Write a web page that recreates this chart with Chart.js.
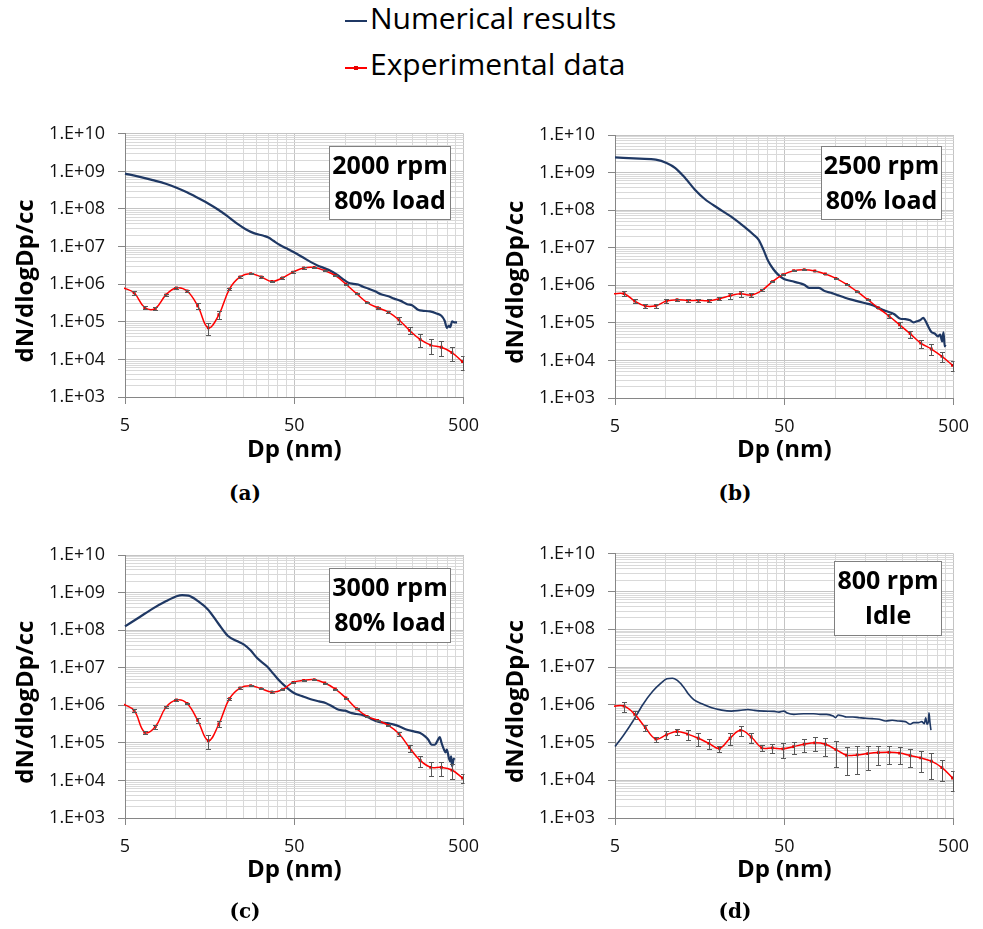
<!DOCTYPE html>
<html>
<head>
<meta charset="utf-8">
<script src="https://cdn.jsdelivr.net/npm/chart.js@4.4.1/dist/chart.umd.min.js"></script>
<style>
  html, body { margin: 0; padding: 0; background: #ffffff; width: 983px; height: 929px; overflow: hidden; }
  .panel { position: absolute; width: 490px; height: 370px; }
  .panel canvas { display: block; }
  .legline { position: absolute; height: 2px; width: 22px; left: 345px; }
  .legtext { position: absolute; left: 370px; font-family: 'Open Sans', sans-serif; font-size: 30px; line-height: 30px; color: #000; white-space: nowrap; }
  .legdot { position: absolute; width: 4px; height: 4px; background: #e60000; left: 354px; }
  .cap { position: absolute; width: 490px; text-align: center; font-family: 'DejaVu Serif', serif; font-weight: bold; font-size: 20px; line-height: 24px; color: #000; }
</style>
</head>
<body>
<div class="legline" style="top:20px;background:#1f3864"></div>
<div class="legtext" style="top:3px">Numerical results</div>
<div class="legline" style="top:67px;background:#ff0000"></div>
<div class="legdot" style="top:66px"></div>
<div class="legtext" style="top:49px">Experimental data</div>

<div class="panel" style="left:0px;top:110px"><canvas id="ca" width="490" height="370"></canvas></div>
<div class="panel" style="left:490px;top:110px"><canvas id="cb" width="490" height="370"></canvas></div>
<div class="panel" style="left:0px;top:530px"><canvas id="cc" width="490" height="370"></canvas></div>
<div class="panel" style="left:490px;top:530px"><canvas id="cd" width="490" height="370"></canvas></div>

<div class="cap" style="left:0px;top:481px">(a)</div>
<div class="cap" style="left:490px;top:481px">(b)</div>
<div class="cap" style="left:0px;top:899px">(c)</div>
<div class="cap" style="left:490px;top:899px">(d)</div>

<script>
// ---------------- DATA ----------------
// Axis ticks / labels
const xLabeledValues = [5, 50, 500];
const xTickLabels = ['5', '50', '500'];
const xGridValues = [5, 10, 15, 20, 25, 30, 35, 40, 45, 50, 100, 150, 200, 250, 300, 350, 400, 450, 500];
const yDecades = [1e3, 1e4, 1e5, 1e6, 1e7, 1e8, 1e9, 1e10];
const yTickLabels = ['1.E+03', '1.E+04', '1.E+05', '1.E+06', '1.E+07', '1.E+08', '1.E+09', '1.E+10'];

const seriesNames = ['Numerical results', 'Experimental data'];
const xTitle = 'Dp (nm)';
const yTitle = 'dN/dlogDp/cc';
const boxTexts = [['2000 rpm', '80% load'], ['2500 rpm', '80% load'], ['3000 rpm', '80% load'], ['800 rpm', 'Idle']];

// Experimental (SMPS) diameters, nm
const dpExp = [4.9, 5.66, 6.54, 7.55, 8.72, 10.07, 11.63, 13.44, 15.52, 17.92, 20.70, 23.91, 27.62, 31.89, 36.84, 42.55, 49.14, 56.77, 65.56, 75.72, 87.47, 101.0, 116.7, 134.8, 155.6, 179.8, 207.7, 239.9, 277.0, 319.9, 369.5, 426.8, 493.0];

// (a) 2000 rpm 80% load
const expA = [8.0e5, 5.9e5, 2.4e5, 2.26e5, 5.2e5, 8.0e5, 6.6e5, 2.65e5, 6.9e4, 1.54e5, 7.4e5, 1.56e6, 1.91e6, 1.56e6, 1.18e6, 1.47e6, 2.1e6, 2.7e6, 2.8e6, 2.29e6, 1.69e6, 1.0e6, 5.6e5, 3.25e5, 2.36e5, 1.81e5, 1.12e5, 5.9e4, 3.4e4, 2.4e4, 2.1e4, 1.52e4, 8.7e3];
const errA = [0, 6e4, 2e4, 2e4, 3e4, 4e4, 4e4, 4.5e4, 2.5e4, 3.5e4, 5e4, 8e4, 8e4, 6e4, 5e4, 6e4, 8e4, 1e5, 1e5, 8e4, 6e4, 4e4, 2.5e4, 1.5e4, 1.2e4, 1e4, 2.4e4, 1.2e4, 1.3e4, 1.05e4, 9e3, 6e3, 3.5e3];
const dpNumA = [5.00, 6.11, 7.29, 8.71, 10.08, 11.61, 13.57, 15.49, 17.70, 20.22, 23.10, 25.81, 28.84, 32.95, 35.21, 37.64, 41.14, 44.96, 49.78, 56.1, 62.7, 68.5, 74.9, 81.8, 89.4, 97.7, 104.4, 111.6, 119.3, 127.5, 136.3, 148.9, 162.8, 177.9, 194.4, 212.4, 232.1, 248.1, 271.1, 289.8, 316.6, 346.0, 369.8, 386.6, 398.7, 409.5, 416.8, 428.1, 441.6, 457.5];
const numA = [8.74e8, 7.14e8, 5.84e8, 4.68e8, 3.67e8, 2.77e8, 1.93e8, 1.40e8, 9.7e7, 6.37e7, 4.01e7, 2.90e7, 2.28e7, 1.94e7, 1.75e7, 1.43e7, 1.10e7, 9.0e6, 7.1e6, 5.2e6, 3.87e6, 3.16e6, 2.69e6, 2.29e6, 1.80e6, 1.33e6, 1.09e6, 1.02e6, 9.8e5, 8.5e5, 7.7e5, 6.6e5, 5.4e5, 4.86e5, 4.14e5, 3.6e5, 2.94e5, 2.77e5, 2.05e5, 1.96e5, 1.89e5, 1.67e5, 1.45e5, 1.07e5, 6.9e4, 7.9e4, 7.2e4, 1.03e5, 9.7e4, 9.7e4];

// (b) 2500 rpm 80% load
const expB = [5.97e5, 5.97e5, 3.81e5, 2.80e5, 2.86e5, 3.81e5, 4.14e5, 3.97e5, 3.97e5, 3.89e5, 4.40e5, 5.28e5, 5.97e5, 5.51e5, 7.33e5, 1.25e6, 1.92e6, 2.45e6, 2.60e6, 2.40e6, 2.0e6, 1.53e6, 1.06e6, 6.76e5, 4.14e5, 2.48e5, 1.52e5, 8.9e4, 5.15e4, 2.9e4, 2.01e4, 1.28e4, 7.4e3];
const errB = [0, 9e4, 4e4, 3e4, 3.5e4, 4e4, 3e4, 4e4, 4.5e4, 4e4, 4e4, 1e5, 1e5, 7e4, 4e4, 5e4, 6e4, 6e4, 6e4, 5e4, 4e4, 3e4, 2e4, 1.2e4, 8e3, 6e3, 1.9e4, 1.5e4, 1.1e4, 7e3, 6.5e3, 3.8e3, 2.2e3];
const dpNumB = [5.00, 6.97, 8.71, 10.08, 11.36, 12.98, 14.83, 16.94, 20.22, 24.15, 28.84, 32.95, 35.21, 37.64, 40.23, 43.00, 45.96, 49.78, 54.9, 61.3, 65.6, 70.0, 74.9, 80.0, 87.4, 95.6, 104.4, 114.1, 124.7, 136.3, 148.9, 162.8, 177.9, 194.4, 207.8, 222.1, 242.7, 259.3, 277.1, 289.8, 303.0, 316.6, 331.0, 338.4, 353.8, 369.8, 386.6, 404.2, 416.8, 428.1, 435.8, 443.6, 447.6];
const numB = [2.54e9, 2.34e9, 2.20e9, 1.80e9, 1.32e9, 7.2e8, 3.51e8, 1.98e8, 1.14e8, 6.8e7, 3.7e7, 2.22e7, 1.64e7, 8.9e6, 4.34e6, 2.71e6, 1.92e6, 1.47e6, 1.30e6, 1.15e6, 1.04e6, 8.5e5, 8.5e5, 8.5e5, 6.9e5, 6.2e5, 5.4e5, 4.68e5, 4.14e5, 3.73e5, 3.37e5, 3.05e5, 2.59e5, 2.15e5, 1.94e5, 1.72e5, 1.29e5, 1.26e5, 1.17e5, 1.03e5, 1.10e5, 1.17e5, 1.35e5, 1.21e5, 8.1e4, 5.7e4, 5.2e4, 4.38e4, 4.84e4, 3.22e4, 5.6e4, 2.37e4, 2.62e4];

// (c) 3000 rpm 80% load
const expC = [1.08e6, 7.3e5, 1.91e5, 2.69e5, 8.8e5, 1.38e6, 1.12e6, 3.97e5, 1.14e5, 3.17e5, 1.50e6, 2.88e6, 3.33e6, 2.77e6, 2.26e6, 2.60e6, 4.08e6, 4.61e6, 4.80e6, 3.92e6, 2.71e6, 1.56e6, 8.1e5, 5.07e5, 3.97e5, 2.92e5, 1.75e5, 7.4e4, 3.42e4, 2.23e4, 2.23e4, 1.89e4, 1.16e4];
const errC = [0, 5e4, 2e4, 3e4, 5e4, 8e4, 6e4, 6.7e4, 4.7e4, 6e4, 8e4, 1.2e5, 1.2e5, 1e5, 8e4, 1e5, 1.5e5, 1.5e5, 1.5e5, 1.2e5, 8e4, 5e4, 3e4, 2e4, 1.5e4, 1.2e4, 2.2e4, 1.6e4, 1.15e4, 9.5e3, 9.5e3, 8e3, 3.2e3];
const dpNumC = [5.00, 6.11, 7.29, 8.71, 10.08, 10.87, 11.87, 13.57, 15.49, 17.70, 20.22, 23.10, 25.24, 27.58, 30.15, 34.44, 37.64, 41.14, 44.96, 49.78, 56.1, 64.1, 70.0, 76.5, 83.6, 91.4, 99.9, 109.2, 116.7, 124.7, 136.3, 148.9, 162.8, 177.9, 194.4, 212.4, 232.1, 253.6, 277.1, 296.2, 309.7, 323.8, 338.4, 349.2, 361.8, 369.8, 381.6, 391.9, 398.7, 409.5, 416.8, 422.4, 428.1, 435.8, 443.6];
const numC = [1.26e8, 2.24e8, 3.73e8, 5.84e8, 7.94e8, 8.6e8, 8.3e8, 5.84e8, 3.51e8, 1.55e8, 7.1e7, 5.04e7, 4.11e7, 2.90e7, 1.81e7, 1.09e7, 6.9e6, 4.34e6, 3.0e6, 2.12e6, 1.73e6, 1.41e6, 1.27e6, 1.15e6, 9.4e5, 7.6e5, 7.2e5, 6.2e5, 5.86e5, 5.6e5, 4.78e5, 3.97e5, 3.51e5, 3.37e5, 3.05e5, 2.64e5, 2.24e5, 2.02e5, 1.83e5, 1.49e5, 1.21e5, 8.9e4, 8.9e4, 1.10e5, 1.43e5, 1.03e5, 6.9e4, 5.6e4, 6.6e4, 3.9e4, 3.22e4, 4.38e4, 2.37e4, 3.57e4, 3.9e4];

// (d) 800 rpm idle
const expD = [9.2e5, 9.2e5, 5.56e5, 2.49e5, 1.24e5, 1.6e5, 1.96e5, 1.67e5, 1.3e5, 9.5e4, 7.0e4, 1.3e5, 2.1e5, 1.4e5, 7.2e4, 7.2e4, 6.8e4, 7.8e4, 9.0e4, 9.8e4, 9.0e4, 6.5e4, 4.6e4, 4.7e4, 5.1e4, 5.4e4, 5.5e4, 5.25e4, 4.5e4, 3.9e4, 3.2e4, 2.15e4, 1.15e4];
const errD = [0, 2.6e5, 1.25e5, 4.4e4, 1.8e4, 3.7e4, 3.8e4, 5.0e4, 5e4, 2.7e4, 1.3e4, 4.5e4, 6.5e4, 4.2e4, 1.2e4, 1.8e4, 2.8e4, 2.7e4, 3.4e4, 3.9e4, 4.5e4, 4.3e4, 3.2e4, 3.2e4, 3.2e4, 2.9e4, 2.8e4, 2.55e4, 2.3e4, 2.2e4, 2.1e4, 1.2e4, 6.3e3];
const dpNumD = [5.00, 5.59, 6.39, 7.31, 8.35, 9.34, 10.12, 10.92, 11.67, 12.76, 13.65, 14.59, 16.31, 18.65, 21.32, 24.37, 27.25, 30.47, 33.32, 38.08, 43.54, 46.56, 49.78, 52.05, 56.9, 65.1, 74.4, 81.3, 88.9, 97.2, 100.3, 103.9, 111.2, 116.2, 127.1, 138.9, 151.9, 166.0, 181.5, 198.5, 217.0, 237.3, 259.4, 277.4, 290.1, 310.2, 324.4, 336.2, 342.3, 348.5, 354.8, 358.0, 362.8, 367.7];
const numD = [7.8e4, 1.51e5, 3.72e5, 1.02e6, 2.27e6, 3.75e6, 4.87e6, 5.06e6, 4.40e6, 2.88e6, 1.86e6, 1.37e6, 1.06e6, 8.3e5, 7.2e5, 6.8e5, 7.1e5, 7.5e5, 7.1e5, 6.8e5, 6.67e5, 6.4e5, 6.8e5, 6.03e5, 5.56e5, 5.79e5, 5.79e5, 5.56e5, 5.56e5, 5.04e5, 4.55e5, 5.35e5, 5.04e5, 4.74e5, 4.74e5, 4.55e5, 4.38e5, 4.29e5, 4.12e5, 3.72e5, 3.88e5, 3.72e5, 3.58e5, 3.05e5, 3.37e5, 3.37e5, 3.58e5, 3.17e5, 4.55e5, 3.05e5, 3.58e5, 6.15e5, 3.37e5, 2.12e5];

// ---------------- STYLE / LAYOUT ----------------
const COLORS = { num: '#1f3864', exp: '#ff0000', expPoint: '#e00000', err: '#595959', grid: '#d9d9d9', gridMajor: '#c4c4c4', axis: '#868686', text: '#111111' };
const FONT = "'Open Sans', sans-serif";
Chart.defaults.font.family = FONT;

const panelLayouts = [
  { id: 'ca', top: 21, right: 19, xh: 83, numWidth: 2.2, boxTop: 12, boxRight: 14, boxW: 121, boxH: 73 },
  { id: 'cb', top: 25, right: 19, xh: 82, numWidth: 2.2, boxTop: 11, boxRight: 13, boxW: 120, boxH: 73 },
  { id: 'cc', top: 25, right: 19, xh: 82, numWidth: 2.2, boxTop: 13, boxRight: 14, boxW: 121, boxH: 74 },
  { id: 'cd', top: 21, right: 21, xh: 82, numWidth: 1.6, boxTop: 7, boxRight: 13, boxW: 107, boxH: 74 }
];
const panelData = [
  { dpNum: dpNumA, num: numA, exp: expA, err: errA, box: boxTexts[0] },
  { dpNum: dpNumB, num: numB, exp: expB, err: errB, box: boxTexts[1] },
  { dpNum: dpNumC, num: numC, exp: expC, err: errC, box: boxTexts[2] },
  { dpNum: dpNumD, num: numD, exp: expD, err: errD, box: boxTexts[3] }
];

// minor grid values for the log y axis (1..9 x each decade)
const yGridValues = [];
yDecades.forEach((d, i) => {
  if (i === yDecades.length - 1) { yGridValues.push(d); return; }
  for (let m = 1; m <= 9; m++) yGridValues.push(d * m);
});
const isYDecade = v => yDecades.indexOf(v) >= 0;
const isXLabeled = v => xLabeledValues.indexOf(v) >= 0;

// ---------------- PLUGINS ----------------
const errorBarPlugin = {
  id: 'errorBars',
  afterDatasetsDraw(chart) {
    const ds = chart.data.datasets[1];
    const errs = ds.errorBars;
    const xs = chart.scales.x, ys = chart.scales.y;
    const a = chart.chartArea;
    const ctx = chart.ctx;
    ctx.save();
    ctx.beginPath();
    ctx.rect(a.left, a.top, a.right - a.left + 1, a.bottom - a.top);
    ctx.clip();
    ctx.strokeStyle = COLORS.err;
    ctx.lineWidth = 1;
    ds.data.forEach((p, i) => {
      const e = errs[i];
      if (!e) return;
      const x = Math.round(xs.getPixelForValue(p.x)) + 0.5;
      const yt = Math.round(ys.getPixelForValue(p.y + e)) + 0.5;
      const yb = Math.round(ys.getPixelForValue(Math.max(p.y - e, 1e3))) + 0.5;
      ctx.beginPath();
      ctx.moveTo(x, yt); ctx.lineTo(x, yb);
      ctx.moveTo(x - 2.5, yt); ctx.lineTo(x + 2.5, yt);
      ctx.moveTo(x - 2.5, yb); ctx.lineTo(x + 2.5, yb);
      ctx.stroke();
    });
    ctx.restore();
  }
};

const boxPlugin = {
  id: 'condBox',
  afterDraw(chart, args, opts) {
    const a = chart.chartArea;
    const ctx = chart.ctx;
    const x = Math.round(a.right - opts.right - opts.w) + 0.5;
    const y = Math.round(a.top + opts.top) + 0.5;
    ctx.save();
    ctx.fillStyle = '#ffffff';
    ctx.fillRect(x, y, opts.w, opts.h);
    ctx.strokeStyle = '#808080';
    ctx.lineWidth = 1;
    ctx.strokeRect(x, y, opts.w, opts.h);
    ctx.fillStyle = '#000000';
    ctx.font = "bold 25px " + FONT;
    ctx.textAlign = 'center';
    ctx.textBaseline = 'middle';
    const n = opts.lines.length;
    opts.lines.forEach((t, i) => {
      ctx.fillText(t, x + opts.w / 2, y + opts.h / 2 + 1 + (i - (n - 1) / 2) * 35);
    });
    ctx.restore();
  }
};

// ---------------- CHARTS ----------------
function makeChart(L, P) {
  const numPts = P.dpNum.map((d, i) => ({ x: d, y: P.num[i] }));
  const expPts = dpExp.map((d, i) => ({ x: d, y: P.exp[i] }));
  return new Chart(document.getElementById(L.id), {
    type: 'line',
    data: {
      datasets: [
        {
          label: seriesNames[0], data: numPts,
          borderColor: COLORS.num, borderWidth: L.numWidth,
          pointRadius: 0, cubicInterpolationMode: 'monotone', order: 1, clip: 1
        },
        {
          label: seriesNames[1], data: expPts, errorBars: P.err,
          borderColor: COLORS.exp, borderWidth: 1.5,
          pointStyle: 'rect', pointRadius: c => (c.dataIndex === 0 ? 0 : 2),
          pointBackgroundColor: COLORS.expPoint, pointBorderWidth: 0,
          tension: 0.4, order: 0, clip: 1
        }
      ]
    },
    options: {
      responsive: false,
      animation: false,
      events: [],
      layout: { padding: { left: 0, right: L.right, top: L.top, bottom: 0 } },
      plugins: {
        legend: { display: false },
        tooltip: { enabled: false },
        condBox: { lines: P.box, top: L.boxTop, right: L.boxRight, w: L.boxW, h: L.boxH }
      },
      scales: {
        x: {
          type: 'logarithmic', min: 5, max: 500,
          afterBuildTicks: s => { s.ticks = xGridValues.map(v => ({ value: v, major: isXLabeled(v) })); },
          afterFit: s => { s.height = L.xh; },
          ticks: {
            autoSkip: false, maxRotation: 0, minRotation: 0, padding: 11,
            font: { size: 18 }, color: COLORS.text,
            callback: v => { const i = xLabeledValues.indexOf(v); return i >= 0 ? xTickLabels[i] : ''; }
          },
          grid: {
            color: c => (c.tick && isXLabeled(c.tick.value) ? COLORS.gridMajor : COLORS.grid),
            lineWidth: 1, tickLength: 7,
            tickColor: c => (c.tick && isXLabeled(c.tick.value) ? COLORS.axis : 'rgba(0,0,0,0)')
          },
          border: { display: true, color: COLORS.axis, width: 1 },
          title: { display: true, text: xTitle, color: '#000', font: { size: 24, weight: 'bold' }, padding: { top: 0, bottom: 15 } }
        },
        y: {
          type: 'logarithmic', min: 1e3, max: 1e10,
          afterBuildTicks: s => { s.ticks = yGridValues.map(v => ({ value: v, major: isYDecade(v) })); },
          afterFit: s => { s.width = 125; },
          ticks: {
            autoSkip: false, padding: 13,
            font: { size: 18 }, color: COLORS.text,
            callback: v => { const i = yDecades.indexOf(v); return i >= 0 ? yTickLabels[i] : ''; }
          },
          grid: {
            color: c => (c.tick && isYDecade(c.tick.value) ? COLORS.gridMajor : COLORS.grid),
            lineWidth: 1, tickLength: 7,
            tickColor: c => (c.tick && isYDecade(c.tick.value) ? COLORS.axis : 'rgba(0,0,0,0)')
          },
          border: { display: true, color: COLORS.axis, width: 1 },
          title: { display: true, text: yTitle + '     ', color: '#000', font: { size: 24, weight: 'bold' }, padding: { top: 12, bottom: 0 } }
        }
      }
    },
    plugins: [errorBarPlugin, boxPlugin]
  });
}

panelLayouts.forEach((L, i) => makeChart(L, panelData[i]));
</script>
</body>
</html>
